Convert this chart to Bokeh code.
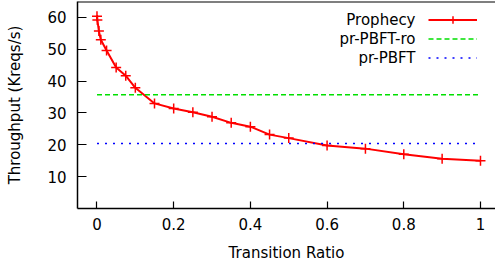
from bokeh.plotting import figure
from bokeh.models import Range1d, FixedTicker, Legend, LegendItem, Span, Label
from bokeh.core.properties import value
from bokeh.embed import file_html
from bokeh.resources import INLINE

# ---- data ----
ratio = [0, 0.001, 0.005, 0.01, 0.025, 0.05, 0.075, 0.1, 0.15, 0.2, 0.25, 0.3,
         0.35, 0.4, 0.45, 0.5, 0.6, 0.7, 0.8, 0.9, 1.0]
prophecy = [60.4, 59.2, 55.7, 53.0, 49.6, 44.3, 41.7, 37.9, 33.0, 31.4, 30.2, 28.8,
            26.9, 25.7, 23.2, 22.1, 19.8, 18.8, 17.0, 15.6, 15.0]
pr_pbft_ro = 35.7
pr_pbft = 20.4
series_names = ["Prophecy", "pr-PBFT-ro", "pr-PBFT"]
x_ticks = [0, 0.2, 0.4, 0.6, 0.8, 1.0]
x_tick_labels = ["0", "0.2", "0.4", "0.6", "0.8", "1"]
y_ticks = [10, 20, 30, 40, 50, 60]

FONT = "DejaVu Sans"
LEFT, TOP, BOTTOM = 77, 1, 57
FW, FH = 418, 207
X0, X1 = -0.0508, -0.0508 + FW / 383.5
Y0, Y1 = 0, 65.0

p = figure(frame_width=FW, frame_height=FH, output_backend="svg", toolbar_location=None,
           x_range=Range1d(X0, X1), y_range=Range1d(Y0, Y1),
           min_border_left=LEFT, min_border_right=0, min_border_top=TOP,
           min_border_bottom=BOTTOM)
p.grid.visible = False
p.outline_line_color = None

line_r = p.line(ratio, prophecy, line_color="#ff0000", line_width=2)
scat_r = p.scatter(ratio, prophecy, marker="cross", size=10, line_color="#ff0000", line_width=1.5)
x_span = [min(ratio), max(ratio)]
g = p.line(x_span, [pr_pbft_ro] * 2, line_color="#00e000", line_width=1.6, line_dash="5 3")
b = p.line(x_span, [pr_pbft] * 2, line_color="#0000ff", line_width=1.6, line_dash="2 6")

# top border of the frame
p.add_layout(Span(location=Y1, dimension="width", line_color="black", line_width=2))

for ax in (p.xaxis[0], p.yaxis[0]):
    ax.axis_line_width = 1.5
    ax.major_tick_line_width = 1.2
    ax.major_tick_out = 0
    ax.minor_tick_line_color = None
    ax.major_label_text_font = FONT
    ax.major_label_text_font_size = "15px"
    ax.major_label_text_color = "black"
    ax.axis_label_text_font = FONT
    ax.axis_label_text_font_size = "15px"
    ax.axis_label_text_font_style = "normal"
    ax.axis_label_text_color = "black"

p.xaxis.ticker = FixedTicker(ticks=x_ticks)
p.xaxis.major_label_overrides = {t: l for t, l in zip(x_ticks, x_tick_labels)}
p.xaxis.major_tick_in = 7
p.xaxis.major_label_standoff = 9
p.xaxis.axis_label = "Transition Ratio"
p.xaxis.axis_label_standoff = 11

p.yaxis.ticker = FixedTicker(ticks=y_ticks)
p.yaxis.major_tick_in = 9
p.yaxis.major_label_standoff = 11
p.yaxis.axis_label = "Throughput (Kreqs/s)"
p.yaxis.axis_label_standoff = 20

# legend: sample lines from a Legend, names as right-aligned labels to their left
px_x = FW / (X1 - X0)
px_y = FH / (Y1 - Y0)
frame_bottom = TOP + FH
legend = Legend(items=[LegendItem(label=value(""), renderers=[line_r, scat_r]),
                       LegendItem(label=value(""), renderers=[g]),
                       LegendItem(label=value(""), renderers=[b])],
                location=(427.7 - LEFT, frame_bottom - 66.5), glyph_width=49, glyph_height=19,
                label_height=19, label_width=0, spacing=0, padding=0, margin=0,
                label_standoff=0, label_text_font_size="1px",
                border_line_color=None, background_fill_alpha=0)
p.add_layout(legend)

text_right = X0 + (415.0 - LEFT) / px_x
for i, name in enumerate(series_names):
    row_center = 19.0 + 19.0 * i
    p.add_layout(Label(x=text_right, y=Y0 + (frame_bottom - row_center) / px_y, text=name,
                       text_align="right", text_baseline="middle",
                       text_font=FONT, text_font_size="15px", text_color="black"))

open("out.html", "w").write(file_html(p, INLINE))
